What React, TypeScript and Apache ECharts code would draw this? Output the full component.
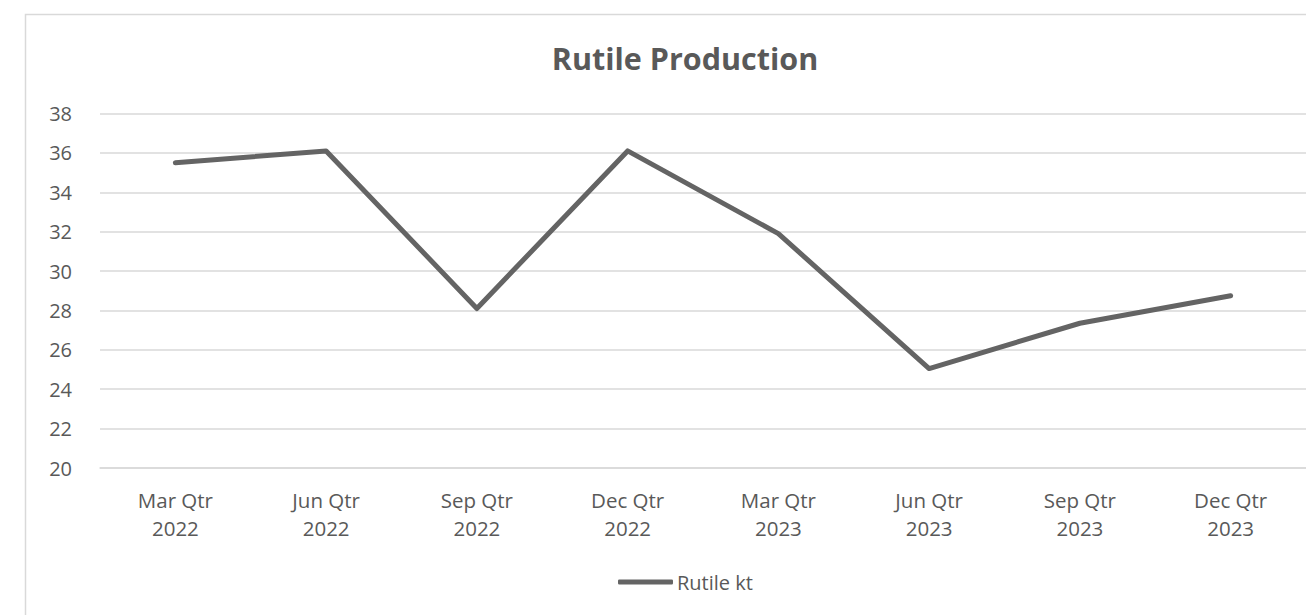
import React, { useEffect, useRef } from "react";
import * as echarts from "echarts";

const categories = [
  "Mar Qtr\n2022",
  "Jun Qtr\n2022",
  "Sep Qtr\n2022",
  "Dec Qtr\n2022",
  "Mar Qtr\n2023",
  "Jun Qtr\n2023",
  "Sep Qtr\n2023",
  "Dec Qtr\n2023",
];
const rutileKt = [35.5, 36.1, 28.1, 36.1, 31.9, 25.05, 27.35, 28.75];
const seriesName = "Rutile kt";
const titleText = "Rutile Production";

const FONT = "'Open Sans', 'Noto Sans', sans-serif";
const TXT = "#595959";

export default function App() {
  const ref = useRef<HTMLDivElement>(null);
  useEffect(() => {
    if (!ref.current) return;
    const chart = echarts.init(ref.current, null, { renderer: "svg" });
    chart.setOption({
      animation: false,
      backgroundColor: "#ffffff",
      textStyle: { fontFamily: FONT },
      graphic: [
        {
          type: "rect",
          shape: { x: 25.5, y: 14.5, width: 1400, height: 700 },
          style: { fill: "none", stroke: "#d9d9d9", lineWidth: 1.5 },
          silent: true,
          z: -1,
        },
      ],
      title: {
        text: titleText,
        left: 680,
        textAlign: "center",
        top: 37,
        textStyle: { fontFamily: FONT, fontSize: 30.5, fontWeight: "bold", color: TXT },
      },
      legend: {
        data: [seriesName],
        left: 613,
        top: 567,
        icon: "roundRect",
        itemWidth: 55,
        itemHeight: 5,
        itemGap: 4,
        itemStyle: { color: "#646464" },
        textStyle: { fontFamily: FONT, fontSize: 20, color: TXT, padding: [0, 0, 0, -1] },
      },
      grid: { left: 100, right: 0, top: 113.5, bottom: 147, containLabel: false },
      xAxis: {
        type: "category",
        data: categories,
        boundaryGap: true,
        axisLine: { show: true, lineStyle: { color: "#d9d9d9", width: 1.5 } },
        axisTick: { show: false },
        axisLabel: {
          fontFamily: FONT,
          fontSize: 20.5,
          color: TXT,
          lineHeight: 28,
          margin: 18,
          interval: 0,
        },
      },
      yAxis: {
        type: "value",
        min: 20,
        max: 38,
        interval: 2,
        axisLine: { show: false },
        axisTick: { show: false },
        splitLine: { lineStyle: { color: "#d9d9d9", width: 1.5 } },
        axisLabel: { fontFamily: FONT, fontSize: 20, color: TXT, margin: 28 },
      },
      series: [
        {
          name: seriesName,
          type: "line",
          data: rutileKt,
          symbol: "none",
          lineStyle: { color: "#646464", width: 5, cap: "round", join: "round" },
          itemStyle: { color: "#646464" },
        },
      ],
    });
    return () => chart.dispose();
  }, []);
  return (
    <div
      ref={ref}
      style={{ position: "fixed", left: 0, top: 0, width: 1306, height: 615, background: "#fff" }}
    />
  );
}
